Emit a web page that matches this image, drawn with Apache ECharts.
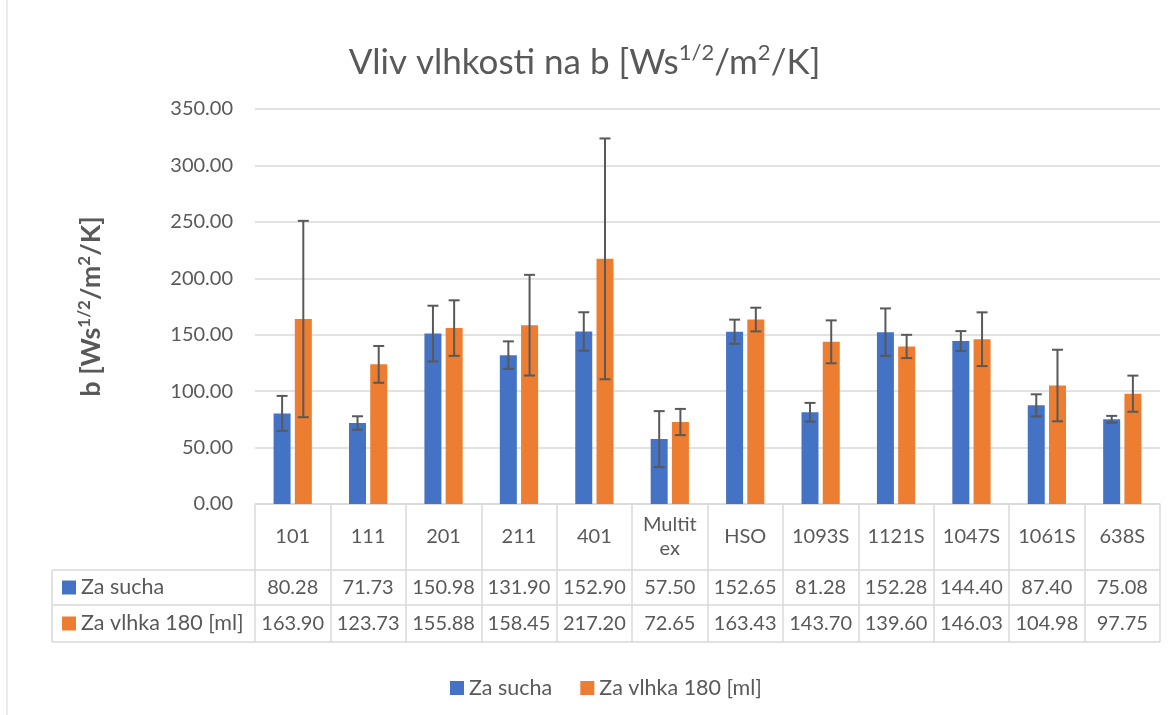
<!DOCTYPE html>
<html>
<head>
<meta charset="utf-8">
<script src="https://cdn.jsdelivr.net/npm/echarts@6/dist/echarts.min.js"></script>
<style>
  html, body { margin: 0; padding: 0; background: #fff; }
  #main { width: 1169px; height: 715px; }
</style>
</head>
<body>
<div id="main"></div>
<script>
var categories = ['101', '111', '201', '211', '401', 'Multitex', 'HSO', '1093S', '1121S', '1047S', '1061S', '638S'];
var sucha = [80.28, 71.73, 150.98, 131.90, 152.90, 57.50, 152.65, 81.28, 152.28, 144.40, 87.40, 75.08];
var vlhka = [163.90, 123.73, 155.88, 158.45, 217.20, 72.65, 163.43, 143.70, 139.60, 146.03, 104.98, 97.75];
// error bar half-lengths
var suchaErr = [15.5, 6.0, 24.7, 12.2, 17.0, 24.8, 10.7, 8.3, 21.0, 8.8, 9.8, 3.0];
var vlhkaErr = [87.0, 16.3, 24.6, 44.6, 106.7, 11.6, 10.5, 19.0, 10.3, 23.8, 31.7, 16.0];
var yTicks = [0, 50, 100, 150, 200, 250, 300, 350];
var seriesNames = ['Za sucha', 'Za vlhka 180 [ml]'];

var blue = '#4472C4', orange = '#ED7D31', grey = '#595959', lineGrey = '#d9d9d9';
var font = 'Lato, "Open Sans", sans-serif';

var gridLeft = 255, gridRight = 1160, gridTop = 109, gridBottom = 504;
var rowTops = [504, 570, 605, 642];

function errData(vals, errs) {
    return vals.map(function (v, i) { return [i, v - errs[i], v + errs[i]]; });
}

function errRender(offset) {
    return function (params, api) {
        var hi = api.coord([api.value(0), api.value(2)]);
        var lo = api.coord([api.value(0), api.value(1)]);
        var x = hi[0] + offset;
        var st = { stroke: grey, lineWidth: 2 };
        return {
            type: 'group',
            children: [
                { type: 'line', shape: { x1: x, y1: hi[1], x2: x, y2: lo[1] }, style: st },
                { type: 'line', shape: { x1: x - 5.5, y1: hi[1], x2: x + 5.5, y2: hi[1] }, style: st },
                { type: 'line', shape: { x1: x - 5.5, y1: lo[1], x2: x + 5.5, y2: lo[1] }, style: st }
            ]
        };
    };
}

function rowAxis(vals, rowIdx) {
    return {
        type: 'category',
        data: categories,
        position: 'bottom',
        axisLine: { show: false },
        axisTick: { show: false },
        axisLabel: {
            interval: 0,
            margin: (rowTops[rowIdx] + rowTops[rowIdx + 1]) / 2 - gridBottom,
            verticalAlign: 'middle',
            color: grey,
            fontSize: 20,
            fontFamily: font,
            formatter: function (v, i) { return vals[i].toFixed(2); }
        }
    };
}

var myChart = echarts.init(document.getElementById('main'));

var graphics = [
    { type: 'rect', shape: { x: 7, y: -2, width: 1200, height: 730 }, style: { fill: 'none', stroke: lineGrey, lineWidth: 1 }, silent: true },
    { type: 'line', shape: { x1: 52, y1: rowTops[1], x2: gridRight, y2: rowTops[1] }, style: { stroke: lineGrey, lineWidth: 1.5 } },
    { type: 'line', shape: { x1: 52, y1: rowTops[2], x2: gridRight, y2: rowTops[2] }, style: { stroke: lineGrey, lineWidth: 1.5 } },
    { type: 'line', shape: { x1: 52, y1: rowTops[3], x2: gridRight, y2: rowTops[3] }, style: { stroke: lineGrey, lineWidth: 1.5 } },
    { type: 'line', shape: { x1: 52, y1: rowTops[1], x2: 52, y2: rowTops[3] }, style: { stroke: lineGrey, lineWidth: 1.5 } }
];
[blue, orange].forEach(function (c, k) {
    var cy = (rowTops[k + 1] + rowTops[k + 2]) / 2;
    graphics.push({ type: 'rect', shape: { x: 62, y: cy - 7, width: 14, height: 14 }, style: { fill: c } });
    graphics.push({
        type: 'text', x: 81, y: cy,
        style: { text: seriesNames[k], fill: grey, font: '21.5px ' + font, verticalAlign: 'middle' }
    });
});

var option = {
    backgroundColor: '#fff',
    animation: false,
    title: {
        text: '{t|Vliv vlhkosti na b [Ws}{s|1/2}{t|/m}{s|2}{t|/K]}',
        left: 'center',
        top: 33,
        textStyle: {
            fontWeight: 'normal',
            rich: {
                t: { fontSize: 35, fontWeight: 'normal', color: grey, fontFamily: font, lineHeight: 42, verticalAlign: 'bottom' },
                s: { fontSize: 22, fontWeight: 'normal', color: grey, fontFamily: font, lineHeight: 42, verticalAlign: 'top', padding: [4, 0, 0, 0] }
            }
        }
    },
    legend: {
        data: seriesNames,
        left: 445,
        top: 672,
        icon: 'rect',
        itemWidth: 14,
        itemHeight: 14,
        itemGap: 28,
        textStyle: { color: grey, fontSize: 21.5, fontFamily: font }
    },
    grid: { left: gridLeft, right: 1169 - gridRight, top: gridTop, bottom: 715 - gridBottom, containLabel: false },
    xAxis: [
        {
            type: 'category',
            data: categories,
            axisLine: { lineStyle: { color: lineGrey, width: 1.5 } },
            axisTick: { show: true, interval: 0, length: rowTops[3] - gridBottom, lineStyle: { color: lineGrey, width: 1.5 } },
            axisLabel: {
                interval: 0,
                margin: (rowTops[0] + rowTops[1]) / 2 - gridBottom,
                verticalAlign: 'middle',
                color: grey,
                fontSize: 20,
                fontFamily: font,
                lineHeight: 24,
                formatter: function (v) { return v.length > 6 ? v.slice(0, 6) + '\n' + v.slice(6) : v; }
            }
        },
        rowAxis(sucha, 1),
        rowAxis(vlhka, 2)
    ],
    yAxis: {
        type: 'value',
        min: yTicks[0],
        max: yTicks[yTicks.length - 1],
        interval: yTicks[1] - yTicks[0],
        axisLine: { show: false },
        axisTick: { show: false },
        splitLine: { lineStyle: { color: lineGrey, width: 1.5 } },
        axisLabel: {
            margin: 22,
            color: grey,
            fontSize: 20,
            fontFamily: font,
            formatter: function (v) { return v.toFixed(2); }
        },
        name: '{b|b [Ws}{s|1/2}{b|/m}{s|2}{b|/K]}',
        nameLocation: 'middle',
        nameGap: 150,
        nameRotate: 90,
        nameTextStyle: {
            rich: {
                b: { fontSize: 27, fontWeight: 'bold', color: grey, fontFamily: font, lineHeight: 32, verticalAlign: 'bottom' },
                s: { fontSize: 17, fontWeight: 'bold', color: grey, fontFamily: font, lineHeight: 32, verticalAlign: 'top', padding: [3, 0, 0, 0] }
            }
        }
    },
    series: [
        { name: seriesNames[0], type: 'bar', data: sucha, barWidth: 17, barGap: '25%', itemStyle: { color: blue } },
        { name: seriesNames[1], type: 'bar', data: vlhka, barWidth: 17, barGap: '25%', itemStyle: { color: orange } },
        { name: 'err1', type: 'custom', data: errData(sucha, suchaErr), renderItem: errRender(-10.6), encode: { x: 0, y: [1, 2] }, z: 5 },
        { name: 'err2', type: 'custom', data: errData(vlhka, vlhkaErr), renderItem: errRender(10.6), encode: { x: 0, y: [1, 2] }, z: 5 }
    ],
    graphic: graphics
};

myChart.setOption(option);
</script>
</body>
</html>
